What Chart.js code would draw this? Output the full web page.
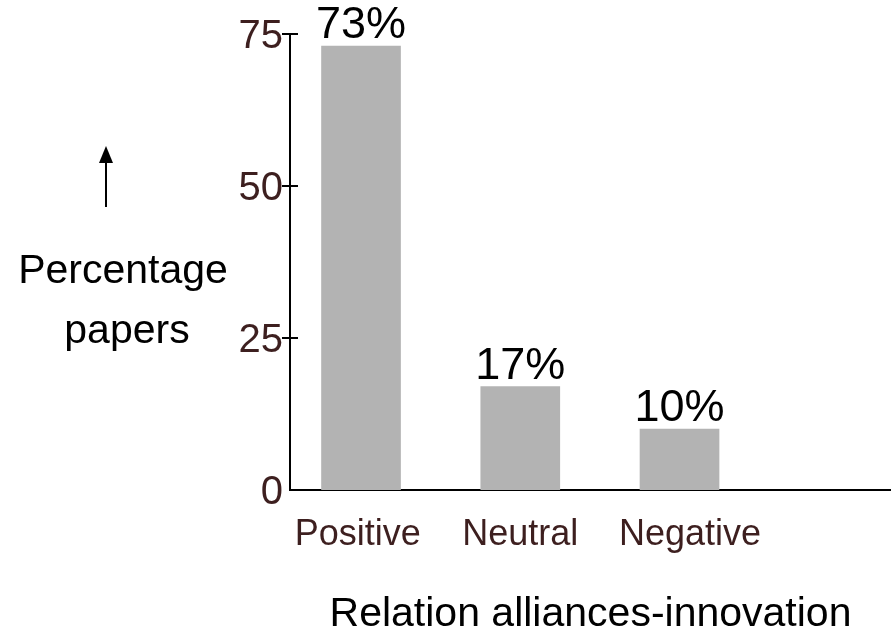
<!DOCTYPE html>
<html>
<head>
<meta charset="utf-8">
<title>Relation alliances-innovation</title>
<script src="https://cdn.jsdelivr.net/npm/chart.js@4.4.0/dist/chart.umd.min.js"></script>
<style>
  html, body { margin: 0; padding: 0; background: #fff; }
  #wrap { width: 891px; height: 635px; }
</style>
</head>
<body>
<div id="wrap"><canvas id="relationChart" width="891" height="635"></canvas></div>
<script>
// --- Data ---
const categories = ['Positive', 'Neutral', 'Negative'];
const paperShares = [73, 17, 10];
const yTicks = [0, 25, 50, 75];
// where each category name sits along the x axis (bars sit at 1, 2, 3)
const labelSlots = [0.98, 2, 3.066];

const FONT = '"Liberation Sans", Arial, Helvetica, sans-serif';
const tickColor = '#3d1f1f';
const barColor = '#b3b3b3';

// cross-shaped tick marks on the y axis, value labels, left-hand axis caption
const decorations = {
    id: 'decorations',
    afterDraw(chart) {
        const ctx = chart.ctx;
        const y = chart.scales.y;
        const area = chart.chartArea;
        ctx.save();

        // y tick marks straddle the axis line
        ctx.strokeStyle = '#000';
        ctx.lineWidth = 2;
        yTicks.forEach(v => {
            if (v === 0) return;
            const py = Math.round(y.getPixelForValue(v));
            ctx.beginPath();
            ctx.moveTo(area.left - 8, py);
            ctx.lineTo(area.left + 8, py);
            ctx.stroke();
        });

        // percentage over each bar
        ctx.fillStyle = '#000';
        ctx.font = '45px ' + FONT;
        ctx.textAlign = 'center';
        ctx.textBaseline = 'alphabetic';
        chart.getDatasetMeta(0).data.forEach((bar, i) => {
            ctx.fillText(paperShares[i] + '%', bar.x, bar.y - 8);
        });

        // caption with an upward arrow
        ctx.font = '41px ' + FONT;
        ctx.fillText('Percentage', 123, 283);
        ctx.fillText('papers', 127, 343);

        ctx.lineWidth = 2;
        ctx.beginPath();
        ctx.moveTo(106, 207);
        ctx.lineTo(106, 160);
        ctx.stroke();
        ctx.beginPath();
        ctx.moveTo(106, 146);
        ctx.lineTo(99, 163);
        ctx.lineTo(113, 163);
        ctx.closePath();
        ctx.fill();

        ctx.restore();
    }
};

const ctx = document.getElementById('relationChart').getContext('2d');
new Chart(ctx, {
    type: 'bar',
    data: {
        datasets: [{
            data: categories.map((c, i) => ({ x: i + 1, y: paperShares[i] })),
            backgroundColor: barColor,
            borderWidth: 0,
            barThickness: 79
        }]
    },
    options: {
        responsive: false,
        devicePixelRatio: 1,
        animation: false,
        layout: { padding: { left: 230, top: 34, right: 0, bottom: 0 } },
        plugins: {
            legend: { display: false },
            tooltip: { enabled: false }
        },
        scales: {
            x: {
                type: 'linear',
                offset: false,
                min: 0.554,
                max: 4.328,
                grid: { display: false, offset: false },
                border: { display: true, color: '#000', width: 2 },
                afterBuildTicks: scale => {
                    scale.ticks = labelSlots.map(v => ({ value: v }));
                },
                afterFit: scale => { scale.height = 145; },
                ticks: {
                    autoSkip: false,
                    maxRotation: 0,
                    padding: 15,
                    color: tickColor,
                    font: { family: FONT, size: 36 },
                    callback: (value, index) => categories[index]
                },
                title: {
                    display: true,
                    text: 'Relation alliances-innovation',
                    color: '#000',
                    font: { family: FONT, size: 41, lineHeight: 1 },
                    padding: { top: 0, bottom: 0 }
                }
            },
            y: {
                min: 0,
                max: 75,
                grid: { display: false, drawTicks: false },
                border: { display: true, color: '#000', width: 2 },
                afterBuildTicks: scale => {
                    scale.ticks = yTicks.map(v => ({ value: v }));
                },
                afterFit: scale => { scale.width = 60; },
                ticks: {
                    padding: 7,
                    labelOffset: 3,
                    color: tickColor,
                    font: { family: FONT, size: 40 }
                }
            }
        }
    },
    plugins: [decorations]
});
</script>
</body>
</html>
